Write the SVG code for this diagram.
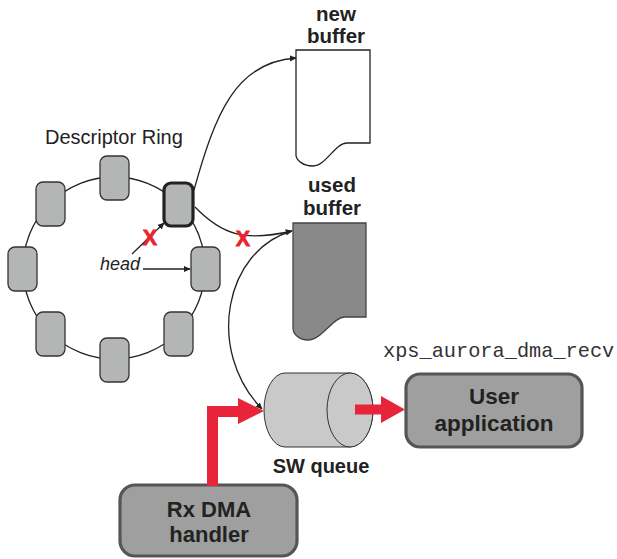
<svg xmlns="http://www.w3.org/2000/svg" width="617" height="559" viewBox="0 0 617 559">
  <style>
    .lbl { font-family: "Liberation Sans", Arial, sans-serif; fill: #222; }
    .bold { font-weight: bold; text-anchor: middle; }
    .desc { fill: #b4b6b5; stroke: #333; stroke-width: 1.3; }
    .wire { fill: none; stroke: #222; stroke-width: 1.3; }
    .box { fill: #9e9f9e; stroke: #555; stroke-width: 3.2; }
    .redx { font-family: "Liberation Sans", Arial, sans-serif; font-weight: bold; fill: #e8242f; stroke: #e8242f; stroke-width: 0.8; text-anchor: middle; font-size: 21.5px; }
    .thick { fill: #e8243a; }
  </style>
  <defs>
    <marker id="arr" viewBox="0 0 10 10" refX="9" refY="5" markerWidth="7" markerHeight="7" markerUnits="userSpaceOnUse" orient="auto">
      <path d="M0,0.5 L10,5 L0,9.5 Z" fill="#222"/>
    </marker>
  </defs>

  <rect width="617" height="559" fill="#fff"/>

  <!-- descriptor ring -->
  <g id="ring">
    <text class="lbl" x="45" y="144" font-size="20">Descriptor Ring</text>
    <circle cx="114" cy="268" r="91" class="wire"/>
    <rect class="desc" x="100" y="156" width="29" height="44" rx="7"/>
    <rect class="desc" x="36" y="182" width="29" height="44" rx="7"/>
    <rect class="desc" x="8" y="247" width="29" height="44" rx="7"/>
    <rect class="desc" x="36" y="312" width="29" height="44" rx="7"/>
    <rect class="desc" x="100" y="338" width="29" height="44" rx="7"/>
    <rect class="desc" x="164" y="312" width="29" height="44" rx="7"/>
    <rect class="desc" x="191" y="247" width="29" height="44" rx="7"/>
    <rect class="desc" x="164" y="183" width="29" height="43" rx="7" style="stroke:#222;stroke-width:3.2"/>
  </g>

  <!-- head pointer -->
  <g id="head">
    <text class="lbl" x="100" y="270" font-size="18" font-style="italic">head</text>
  </g>

  <!-- buffers -->
  <g id="new-buffer">
    <text class="lbl bold" x="336" y="21" font-size="20.5">new</text>
    <text class="lbl bold" x="336" y="43" font-size="20.5">buffer</text>
    <path d="M296,50 L370,50 L370,143 L347,143 C335,143 326,166 313,166 C303,166 296,160 296,155 Z" fill="#fff" stroke="#222" stroke-width="1.3"/>
  </g>
  <g id="used-buffer">
    <text class="lbl bold" x="332" y="192" font-size="20.5">used</text>
    <text class="lbl bold" x="332" y="215" font-size="20.5">buffer</text>
    <path d="M293,223 L366,223 L366,317 L345,317 C333,317 322,340 308,340 C299,340 293,334 293,328 Z" fill="#898989" stroke="#444" stroke-width="1.3"/>
  </g>

  <!-- software queue -->
  <g id="sw-queue">
    <path d="M285,373 L350,373 A23,37 0 0 1 350,447 L285,447 A21,37 0 0 1 285,373 Z" fill="#c8c9c8" stroke="#333" stroke-width="1"/>
    <ellipse cx="350" cy="410" rx="23" ry="37" fill="#c8c9c8" stroke="#333" stroke-width="1"/>
    <text class="lbl bold" x="321" y="473" font-size="20">SW queue</text>
  </g>

  <!-- user application -->
  <g id="user-app">
    <text x="383" y="357" font-family="'Liberation Mono', 'Courier New', monospace" font-size="20.3" fill="#333">xps_aurora_dma_recv</text>
    <rect class="box" x="406" y="374" width="176" height="73" rx="14"/>
    <text class="lbl bold" x="494" y="404" font-size="22.5">User</text>
    <text class="lbl bold" x="494" y="431" font-size="22.5">application</text>
  </g>

  <!-- rx dma handler -->
  <g id="rx-dma">
    <rect class="box" x="120" y="485" width="177" height="71" rx="15"/>
    <text class="lbl bold" x="209" y="517" font-size="22">Rx DMA</text>
    <text class="lbl bold" x="209" y="542" font-size="22">handler</text>
  </g>

  <!-- connectors -->
  <g id="connectors">
    <path class="wire" d="M143,269 L190,269" marker-end="url(#arr)"/>
    <path class="wire" d="M132,254 L164,223" marker-end="url(#arr)"/>
    <path class="wire" d="M194,190 C215,115 235,62 296,58" marker-end="url(#arr)"/>
    <path class="wire" d="M195,207 C222,235 245,242 292,231" marker-end="url(#arr)"/>
    <path class="wire" d="M292,231 C225,250 205,350 262,409" marker-end="url(#arr)"/>
    <text class="redx" x="150" y="245">X</text>
    <text class="redx" x="243" y="246">X</text>
    <path class="thick" d="M355,404.5 L381,404.5 L381,396 L405,409.5 L381,423 L381,414.5 L355,414.5 Z"/>
    <path class="thick" d="M207,486 L207,406 L238,406 L238,398 L264,411 L238,424 L238,417 L218,417 L218,486 Z"/>
  </g>
</svg>
